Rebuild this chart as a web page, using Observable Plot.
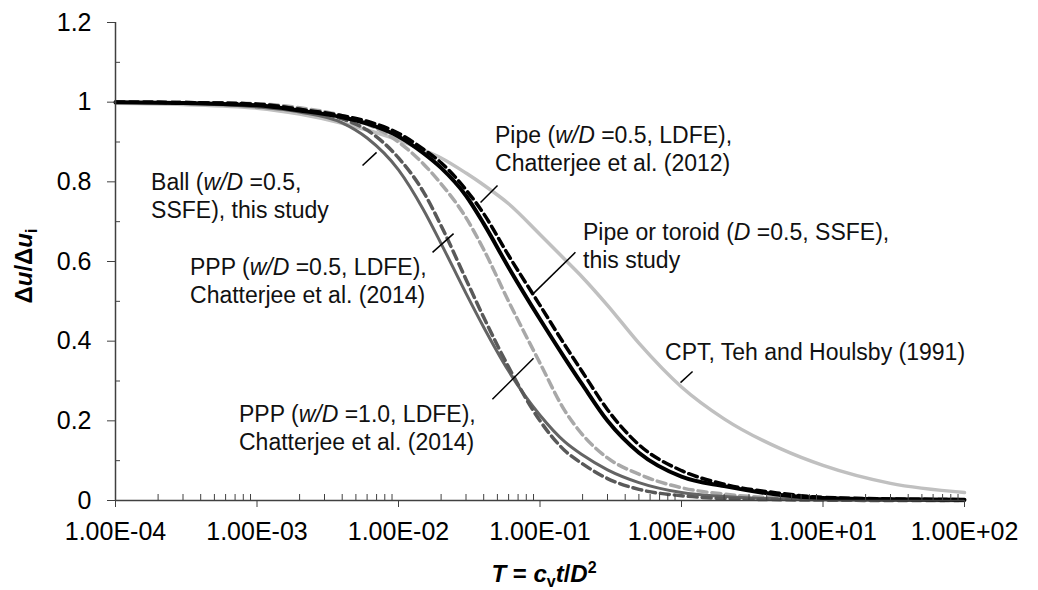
<!DOCTYPE html>
<html>
<head>
<meta charset="utf-8">
<script src="https://cdn.jsdelivr.net/npm/d3@7"></script>
<script src="https://cdn.jsdelivr.net/npm/@observablehq/plot@0.6"></script>
<style>
  html, body { margin: 0; padding: 0; background: #fff; }
  #chart { width: 1038px; height: 590px; }
</style>
</head>
<body>
<div id="chart"></div>
<script>
// ---- data ----
const T = [1e-4, 3e-4, 1e-3, 2e-3, 4e-3, 6e-3, 1e-2, 1.5e-2, 2e-2, 3e-2, 4e-2, 6e-2, 0.1, 0.15, 0.2, 0.3, 0.5, 1, 2, 5, 10, 30, 100];

const cptTehHoulsby = [0.997, 0.994, 0.985, 0.970, 0.947, 0.930, 0.905, 0.880, 0.860, 0.822, 0.792, 0.745, 0.668, 0.605, 0.560, 0.490, 0.395, 0.285, 0.205, 0.130, 0.088, 0.043, 0.020];
const pipeSSFE      = [1.000, 0.998, 0.992, 0.979, 0.962, 0.946, 0.914, 0.872, 0.835, 0.765, 0.695, 0.585, 0.455, 0.357, 0.290, 0.200, 0.120, 0.060, 0.036, 0.014, 0.006, 0.003, 0.002];
const pipeLDFE      = [1.000, 0.999, 0.995, 0.982, 0.966, 0.952, 0.922, 0.882, 0.848, 0.780, 0.720, 0.615, 0.490, 0.390, 0.322, 0.228, 0.140, 0.075, 0.041, 0.018, 0.008, 0.004, 0.002];
const ballSSFE      = [1.000, 0.997, 0.988, 0.975, 0.948, 0.910, 0.830, 0.730, 0.645, 0.520, 0.435, 0.325, 0.214, 0.147, 0.114, 0.077, 0.045, 0.020, 0.010, 0.004, 0.002, 0.001, 0.000];
const ppp05LDFE     = [1.000, 0.999, 0.996, 0.986, 0.966, 0.945, 0.900, 0.845, 0.795, 0.710, 0.630, 0.500, 0.345, 0.225, 0.165, 0.107, 0.066, 0.032, 0.016, 0.006, 0.003, 0.001, 0.000];
const ppp10LDFE     = [1.000, 0.999, 0.995, 0.982, 0.958, 0.930, 0.860, 0.775, 0.690, 0.555, 0.460, 0.335, 0.200, 0.125, 0.092, 0.055, 0.028, 0.012, 0.005, 0.002, 0.001, 0.000, 0.000];

const xTicks = [1e-4, 1e-3, 1e-2, 1e-1, 1, 10, 100];
const xTickLabels = ["1.00E-04", "1.00E-03", "1.00E-02", "1.00E-01", "1.00E+00", "1.00E+01", "1.00E+02"];
const yTicks = [0, 0.2, 0.4, 0.6, 0.8, 1.0, 1.2];
const yTickLabels = ["0", "0.2", "0.4", "0.6", "0.8", "1", "1.2"];
const yMinorTicks = [0.1, 0.3, 0.5, 0.7, 0.9, 1.1];

// annotation labels: anchor (left, first baseline) in data units, lines of [normal, italic, normal, ...] segments
const labelT = [1.8e-4, 3.39e-4, 0.0485, 0.203, 0.771, 7.52e-4];
const labelU = [0.778, 0.565, 0.896, 0.653, 0.351, 0.196];
const labelLines = [
  [["Ball (", "w/D", " =0.5,"], ["SSFE), this study"]],
  [["PPP (", "w/D", " =0.5, LDFE),"], ["Chatterjee et al. (2014)"]],
  [["Pipe (", "w/D", " =0.5, LDFE),"], ["Chatterjee et al. (2012)"]],
  [["Pipe or toroid (", "D", " =0.5, SSFE),"], ["this study"]],
  [["CPT, Teh and Houlsby (1991)"]],
  [["PPP (", "w/D", " =1.0, LDFE),"], ["Chatterjee et al. (2014)"]]
];
// leader lines (data units)
const leaderT1 = [0.00557, 0.0174, 0.0380, 0.0900, 0.984, 0.0461];
const leaderU1 = [0.841, 0.623, 0.748, 0.520, 0.296, 0.254];
const leaderT2 = [0.0070, 0.0245, 0.0501, 0.178, 1.197, 0.090];
const leaderU2 = [0.874, 0.670, 0.791, 0.623, 0.324, 0.357];

// ---- build ----
const FONT = "'Liberation Sans', Arial, Helvetica, sans-serif";
const rows = vals => T.map((t, i) => ({T: t, U: vals[i]}));
const leaders = leaderT1.map((t, i) => ({x1: t, y1: leaderU1[i], x2: leaderT2[i], y2: leaderU2[i]}));
const xMinor = [];
for (let e = -4; e < 2; e++) for (let m = 2; m <= 9; m++) xMinor.push(m * Math.pow(10, e));
const xLabel = d => xTickLabels[Math.round(Math.log10(d)) + 4];
const yLabel = d => yTickLabels[Math.round(d * 5)];

const AX = "#404040";
const plot = Plot.plot({
  width: 1038,
  height: 590,
  marginLeft: 115,
  marginRight: 74,
  marginTop: 22,
  marginBottom: 90,
  style: {fontFamily: FONT, fontSize: "25px", color: "#000", background: "#fff", overflow: "visible"},
  x: {type: "log", domain: [1e-4, 100]},
  y: {domain: [0, 1.2]},
  marks: [
    Plot.line(rows(cptTehHoulsby), {x: "T", y: "U", stroke: "#c0c0c0", strokeWidth: 3.5, curve: "monotone-x"}),
    Plot.line(rows(ppp05LDFE), {x: "T", y: "U", stroke: "#a8a8a8", strokeWidth: 3.5, strokeDasharray: "9,5", curve: "monotone-x"}),
    Plot.line(rows(ballSSFE), {x: "T", y: "U", stroke: "#646464", strokeWidth: 3, curve: "monotone-x"}),
    Plot.line(rows(ppp10LDFE), {x: "T", y: "U", stroke: "#595959", strokeWidth: 3.5, strokeDasharray: "9,5", curve: "monotone-x"}),
    Plot.line(rows(pipeLDFE), {x: "T", y: "U", stroke: "#000", strokeWidth: 3.5, strokeDasharray: "9,5", curve: "monotone-x"}),
    Plot.line(rows(pipeSSFE), {x: "T", y: "U", stroke: "#000", strokeWidth: 4, curve: "monotone-x"}),
    Plot.link(leaders, {x1: "x1", y1: "y1", x2: "x2", y2: "y2", stroke: "#000", strokeWidth: 1.5}),
    Plot.ruleY([0], {stroke: AX, strokeWidth: 1.5}),
    Plot.ruleX([1e-4], {stroke: AX, strokeWidth: 1.5}),
    Plot.axisX({ticks: xMinor, tickSize: 6, dy: -6, tickFormat: () => "", label: null, stroke: AX}),
    Plot.axisX({ticks: xTicks, tickSize: 7, tickPadding: 15, tickFormat: xLabel, label: null, stroke: AX}),
    Plot.axisY({ticks: yMinorTicks, tickSize: 5, dx: 5, tickFormat: () => "", label: null, stroke: AX}),
    Plot.axisY({ticks: yTicks, tickSize: 8, tickPadding: 16, tickFormat: yLabel, label: null, stroke: AX})
  ]
});
document.getElementById("chart").appendChild(plot);

// ---- annotation text with italic parts, placed through the plot's scales ----
const sx = plot.scale("x"), sy = plot.scale("y");
const svg = d3.select(plot);
const g = svg.append("g").attr("font-family", FONT).attr("font-size", 23).attr("fill", "#111").attr("text-anchor", "start");
labelLines.forEach((lines, k) => {
  const x = sx.apply(labelT[k]), y = sy.apply(labelU[k]);
  const t = g.append("text");
  lines.forEach((segs, j) => {
    segs.forEach((s, m) => {
      const ts = t.append("tspan").text(s);
      if (m === 0) ts.attr("x", x).attr("y", y + j * 28);
      if (m % 2 === 1) ts.attr("font-style", "italic");
    });
  });
});

// x-axis title: T = c_v t/D^2
const xt = svg.append("text").attr("x", 544).attr("y", 582).attr("text-anchor", "middle")
  .attr("font-family", FONT).attr("font-size", 24).attr("font-weight", "bold").attr("fill", "#000");
xt.append("tspan").attr("font-style", "italic").text("T");
xt.append("tspan").text(" = ");
xt.append("tspan").attr("font-style", "italic").text("c");
xt.append("tspan").attr("font-size", 16).attr("dy", 5).text("v");
xt.append("tspan").attr("font-style", "italic").attr("dy", -5).text("t");
xt.append("tspan").text("/");
xt.append("tspan").attr("font-style", "italic").text("D");
xt.append("tspan").attr("font-size", 16).attr("dy", -9).text("2");

// y-axis title: Δu/Δu_i
const yt = svg.append("text").attr("transform", "translate(32,266) rotate(-90)").attr("text-anchor", "middle")
  .attr("font-family", FONT).attr("font-size", 24).attr("font-weight", "bold").attr("fill", "#000");
yt.append("tspan").text("\u0394");
yt.append("tspan").attr("font-style", "italic").text("u");
yt.append("tspan").text("/\u0394");
yt.append("tspan").attr("font-style", "italic").text("u");
yt.append("tspan").attr("font-size", 16).attr("dy", 5).text("i");
</script>
</body>
</html>
